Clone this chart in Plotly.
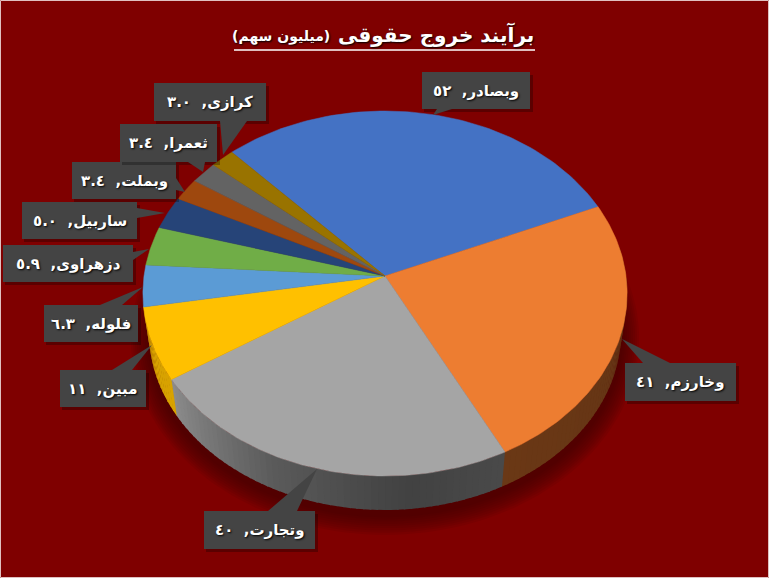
import math
import numpy as np
import plotly.graph_objects as go

# ---- data ----
categories = ["وبصادر", "وخارزم", "وتجارت", "مبین", "فلوله", "دزهراوی", "ساربیل", "وبملت", "ثعمرا", "کرازی"]
values = [52, 41, 40, 11, 6.3, 5.9, 5.0, 3.4, 3.4, 3.0]
value_labels = ["٥٢", "٤١", "٤٠", "١١", "٦.٣", "٥.٩", "٥.٠", "٣.٤", "٣.٤", "٣.٠"]
colors = ["#4472C4", "#ED7D31", "#A5A5A5", "#FFC000", "#5B9BD5", "#70AD47", "#264478", "#9E480E", "#636363", "#997300"]
title_main = "برآیند خروج حقوقی"
title_sub = "(میلیون سهم)"

# ---- pie projection (style) ----
CX, CY, A, B, K = 385, 276, 241, 180.8, 0.0959
S, CY_LOW = 0.975, 315
START = 66.6 - 360 * values[0] / sum(values)
BG = "#7F0000"


def top(theta):
    t = np.radians(theta)
    u, v = np.sin(t), np.cos(t)
    w = 1 + K * v
    return CX + A * u / w, CY - B * v / w


def low(theta, grow=0.0, dx=0.0, dy=0.0):
    t = np.radians(theta)
    u, v = np.sin(t), np.cos(t)
    w = 1 + K * v
    return CX + dx + (A * S + grow) * u / w, CY_LOW + dy - (B * S + grow) * v / w


def shade(theta):
    return np.interp(theta % 360, [0, 90, 153, 175, 205, 237, 360], [.42, .42, .45, .40, .55, .85, .78])


def darker(hex_color, f):
    r, g, b = (int(hex_color[i:i + 2], 16) for i in (1, 3, 5))
    return f"rgb({int(r * f)},{int(g * f)},{int(b * f)})"


fig = go.Figure()
fig.add_shape(type="rect", x0=0.5, y0=0.5, x1=768.5, y1=577.5, line=dict(color="#E0C0C0", width=1), fillcolor=BG, layer="below")

# soft shadow under the pie
all_t = np.arange(0, 360.5, 2)
for g in range(18, 0, -2):
    sx, sy = low(all_t, grow=g, dx=0, dy=5)
    fig.add_trace(go.Scatter(x=sx, y=sy, mode="lines", fill="toself", fillcolor="rgba(60,0,0,0.10)",
                             line=dict(width=0), hoverinfo="skip", showlegend=False))

# slice boundaries, from the values
bounds = START + 360 * np.concatenate([[0], np.cumsum(values)]) / sum(values)

# side wall (only the slices whose wall is visible)
for i in range(1, 4):
    a0, a1 = bounds[i], bounds[i + 1]
    a0 = max(a0, 80)
    n = max(1, int((a1 - a0) / 1.5))
    edges = np.linspace(a0, a1, n + 1)
    for e0, e1 in zip(edges[:-1], edges[1:]):
        t = np.linspace(e0, e1 + 0.4, 3)
        tx, ty = top(t)
        lx, ly = low(t[::-1])
        c = darker(colors[i], float(shade((e0 + e1) / 2)))
        fig.add_trace(go.Scatter(x=np.r_[tx, lx, tx[0]], y=np.r_[ty, ly, ty[0]], mode="lines", fill="toself",
                                 fillcolor=c, line=dict(width=0), hoverinfo="skip", showlegend=False))

# top face
for i in range(len(values)):
    t = np.linspace(bounds[i], bounds[i + 1], 80)
    x, y = top(t)
    fig.add_trace(go.Scatter(x=np.r_[CX, x, CX], y=np.r_[CY, y, CY], mode="lines", fill="toself",
                             fillcolor=colors[i], line=dict(color=colors[i], width=0.5),
                             name=categories[i], showlegend=False,
                             hovertext=f"{categories[i]}, {value_labels[i]}", hoverinfo="text"))

# callouts: box x0, y0, x1, y1 and pointer base / tip
BOX = "#444444"
callouts = [
    (422, 72, 530, 109, [(437, 109), (433, 115), (452, 109)]),
    (625, 363, 736, 401, [(643, 363), (622, 339), (670, 363)]),
    (204, 511, 315, 549, [(268, 511), (317, 469), (297, 511)]),
    (60, 370, 146, 407, [(112, 370), (152, 345), (132, 370)]),
    (44, 305, 138, 342, [(100, 305), (143, 287), (122, 305)]),
    (3, 245, 133, 282, [(133, 252), (149, 249), (133, 260)]),
    (22, 202, 137, 239, [(137, 208), (165, 213), (137, 218)]),
    (72, 162, 176, 199, [(176, 178), (185, 192), (176, 190)]),
    (120, 124, 217, 162, [(188, 162), (203, 172), (205, 162)]),
    (154, 83, 266, 121, [(220, 121), (223, 155), (247, 121)]),
]
for i, (x0, y0, x1, y1, tail) in enumerate(callouts):
    path = "M" + " L".join(f"{px},{py}" for px, py in tail) + " Z"
    fig.add_shape(type="rect", x0=x0 + 2, y0=y0 + 3, x1=x1 + 3, y1=y1 + 3, fillcolor="rgba(0,0,0,0.28)", line_width=0, layer="above")
    fig.add_shape(type="path", path=path, fillcolor=BOX, line_width=0, layer="above")
    fig.add_shape(type="rect", x0=x0, y0=y0, x1=x1, y1=y1, fillcolor=BOX, line_width=0, layer="above")
    fig.add_annotation(x=(x0 + x1) / 2, y=(y0 + y1) / 2, text=f"<b>\u200f{categories[i]},\u00a0 {value_labels[i]}\u200f</b>",
                       showarrow=False, xanchor="center", yanchor="middle",
                       font=dict(family="DejaVu Sans", size=15, color="white", shadow="1px 1px 2px #000000"))

# title
fig.add_annotation(x=436, y=34, text=f"<b>\u200f{title_main}\u200f</b>", showarrow=False, xanchor="center", yanchor="middle",
                   font=dict(family="DejaVu Sans", size=20, color="white", shadow="1px 1px 2px #000000"))
fig.add_annotation(x=281, y=36, text=f"<b>\u200f{title_sub}\u200f</b>", showarrow=False, xanchor="center", yanchor="middle",
                   font=dict(family="DejaVu Sans", size=14, color="white", shadow="1px 1px 2px #000000"))
fig.add_shape(type="line", x0=234, x1=535, y0=50, y1=50, line=dict(color="white", width=1.5))

fig.update_xaxes(range=[0, 769], visible=False, fixedrange=True)
fig.update_yaxes(range=[578, 0], visible=False, fixedrange=True)
fig.update_layout(width=769, height=578, margin=dict(l=0, r=0, t=0, b=0),
                  paper_bgcolor=BG, plot_bgcolor=BG, showlegend=False)
fig.write_html("out.html", config={"displayModeBar": False},
               post_script="document.body.style.margin='0';document.body.style.overflow='hidden';")
